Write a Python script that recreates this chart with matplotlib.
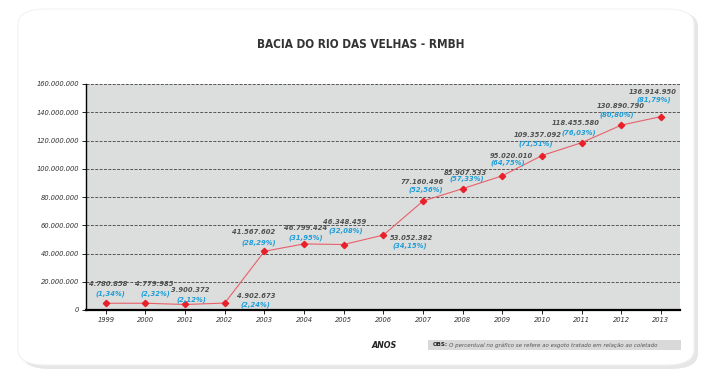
import matplotlib
matplotlib.use("Agg")
import matplotlib.pyplot as plt
from matplotlib.patches import FancyBboxPatch, Rectangle

years = [1999, 2000, 2001, 2002, 2003, 2004, 2005, 2006, 2007, 2008, 2009, 2010, 2011, 2012, 2013]
values = [4780858, 4779985, 3900372, 4902673, 41567602, 46799424, 46348459, 53052382,
          77160496, 85907533, 95020010, 109357092, 118455580, 130890790, 136914950]
percents = ["1,34%", "2,32%", "2,12%", "2,24%", "28,29%", "31,95%", "32,08%", "34,15%",
            "52,56%", "57,33%", "64,75%", "71,51%", "76,03%", "80,80%", "81,79%"]
yticks = [0, 20000000, 40000000, 60000000, 80000000, 100000000, 120000000, 140000000, 160000000]

# label offsets in pixels (dx_val, dy_val, dx_pct, dy_pct)
offsets = [(2, 19, 5, 9), (9, 19, 10, 9), (5, 14, 6, 5), (31, 7, 31, -2), (-11, 19, -6, 9),
           (2, 16, 2, 6), (1, 23, 2, 14), (28, -3, 26, -11), (-1, 19, 3, 11), (3, 16, 4, 10),
           (9, 20, 5, 13), (-4, 21, -6, 12), (-6, 20, -3, 10), (-1, 19, -5, 10), (-8, 25, -7, 17)]

FONT = dict(family="DejaVu Sans", stretch="condensed")

def fmt(v):
    return f"{v:,}".replace(",", ".")

fig = plt.figure(figsize=(7.10, 3.81), dpi=100)
fig.patch.set_facecolor("white")

W, H = 710, 381
shadow = FancyBboxPatch((22 / W, 1 - 369 / H), 676 / W, 358 / H,
                        boxstyle="round,pad=0,rounding_size=0.04", transform=fig.transFigure,
                        facecolor="#e6e6e6", edgecolor="none", zorder=-3)
fig.patches.append(shadow)
card = FancyBboxPatch((18 / W, 1 - 365 / H), 676 / W, 356 / H,
                      boxstyle="round,pad=0,rounding_size=0.04", transform=fig.transFigure,
                      facecolor="white", edgecolor="#f2f2f2", linewidth=0.8, zorder=-2)
fig.patches.append(card)

ax = fig.add_axes([86 / W, 1 - 310 / H, (680 - 86) / W, (310 - 84) / H])
ax.set_facecolor("#dcdddd")
ax.set_xlim(1998.5, 2013.48)
ax.set_ylim(0, 160000000)

for yt in yticks[1:]:
    ax.axhline(yt, color="#555555", linestyle=(0, (3, 1.5)), linewidth=0.7, zorder=1)

ax.plot(years, values, color="#e8606a", linewidth=0.8, zorder=3)
ax.plot(years, values, linestyle="none", marker="D", markersize=3.2, color="#e8202a", zorder=4)

for x, v, p, (dxv, dyv, dxp, dyp) in zip(years, values, percents, offsets):
    ax.annotate(fmt(v), (x, v), xytext=(dxv, dyv), textcoords="offset pixels",
                ha="center", va="center", fontsize=5.4, fontweight="bold", fontstyle="italic",
                color="#505050", zorder=5, **FONT)
    ax.annotate(f"({p})", (x, v), xytext=(dxp, dyp), textcoords="offset pixels",
                ha="center", va="center", fontsize=5.4, fontweight="bold", fontstyle="italic",
                color="#1e9ed8", zorder=5, **FONT)

ax.set_yticks(yticks)
ax.set_yticklabels([fmt(t) for t in yticks], fontsize=5.4, fontstyle="italic",
                   color="#333333", **FONT)
ax.set_xticks(years)
ax.set_xticklabels([str(y) for y in years], fontsize=5.4, fontstyle="italic",
                   color="#333333", **FONT)
ax.tick_params(axis="y", length=3, width=0.6, pad=2)
ax.tick_params(axis="x", length=3, width=0.6, pad=2, direction="out")

for s in ["top", "right"]:
    ax.spines[s].set_visible(False)
ax.spines["left"].set_linewidth(1.0)
ax.spines["bottom"].set_linewidth(1.6)
ax.spines["left"].set_color("black")
ax.spines["bottom"].set_color("black")

fig.text(361 / W, 1 - 44 / H, "BACIA DO RIO DAS VELHAS - RMBH", ha="center", va="center",
         fontsize=8.5, fontweight="bold", color="#333333", **FONT)
fig.text(384 / W, 1 - 345 / H, "ANOS", ha="center", va="center", fontsize=6.4,
         fontweight="bold", fontstyle="italic", color="#222222", **FONT)

obs_box = Rectangle((428 / W, 1 - 350 / H), (681 - 428) / W, 10 / H, transform=fig.transFigure,
                    facecolor="#d9d9d9", edgecolor="none", zorder=1)
fig.patches.append(obs_box)
fig.text(433 / W, 1 - 345 / H, "OBS:", ha="left", va="center", fontsize=4.4,
         fontweight="bold", color="#222222", **FONT)
fig.text(449 / W, 1 - 345 / H,
         "O percentual no gráfico se refere ao esgoto tratado em relação ao coletado",
         ha="left", va="center", fontsize=4.4, fontstyle="italic", color="#555555", **FONT)

fig.savefig("out.png", dpi=100, facecolor="white")
